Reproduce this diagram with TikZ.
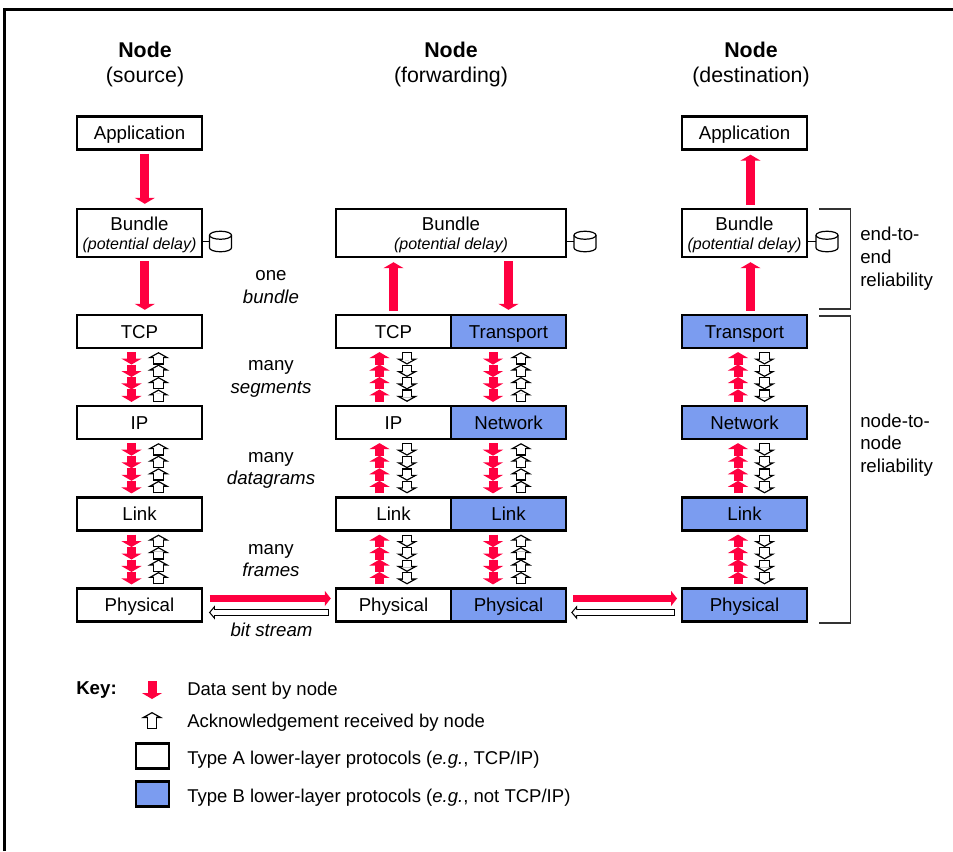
\documentclass[tikz,border=0pt]{standalone}
\usepackage{fontspec}
\setmainfont{Liberation Sans}
\usetikzlibrary{arrows.meta,calc}
\definecolor{datared}{HTML}{FF0040}
\definecolor{typeb}{HTML}{7B9CF0}
\newcommand{\bundletext}{\rule{0pt}{13pt}Bundle\\[-1.75pt]{\fontsize{12}{14}\selectfont\itshape (potential delay)}}
\tikzset{
  layer box/.style={draw,line width=1.8pt,fill=white,minimum width=93.4pt,minimum height=24.75pt,inner sep=0pt,text height=11.8pt,text depth=2pt,font=\fontsize{14}{16}\selectfont},
  half box/.style={layer box,minimum width=86.25pt},
  blue box/.style={half box,fill=typeb},
  bundle box/.style={layer box,minimum height=36pt,align=center,text height=,text depth=},
  store/.style={draw,line width=0.9pt,fill=white},
  big data/.style={datared,line width=6.75pt,-{Triangle[width=15pt,length=4.5pt]},shorten <=2.25pt,shorten >=3pt},
  small data/.style={datared,line width=6.75pt,-{Triangle[width=15pt,length=4.5pt]}},
  small ack/.style={white,line width=6.2pt,-{Triangle[width=8.4pt,length=2.35pt]},shorten <=1pt,shorten >=1.15pt,
    preaction={draw=black,line width=8.2pt,-{Triangle[width=16pt,length=4.5pt]},shorten <=0pt,shorten >=0pt}},
  wire data/.style={datared,line width=5.8pt,-{Triangle[width=11.25pt,length=4.5pt]}},
  wire ack/.style={white,line width=3.2pt,-{Triangle[width=5.6pt,length=2.42pt]},shorten <=\ackstart+0.9pt,shorten >=\ackend+1.18pt,
    preaction={draw=black,line width=5pt,-{Triangle[width=10.5pt,length=4.5pt]},shorten <=\ackstart,shorten >=\ackend}},
  caption/.style={align=center,font=\fontsize{14}{17}\selectfont,inner sep=0pt},
  heading/.style={align=center,font=\fontsize{16}{18.75}\selectfont,inner sep=0pt},
  side note/.style={align=left,font=\fontsize{14}{17}\selectfont,inner sep=0pt,anchor=west},
  key text/.style={font=\fontsize{13.9}{16}\selectfont,inner sep=0pt,anchor=west},
  bracket/.style={draw=black!80,line width=1pt}
}
\begin{document}
\begin{tikzpicture}[x=0.75pt,y=-0.75pt]
  \useasboundingbox (0,0) rectangle (953,851);
  \draw[line width=1.9pt] (4.5,851) -- (4.5,9.5) -- (953,9.5);

  % column headings
  \node[heading] (head1) at (145,64) {\textbf{Node}\\(source)};
  \node[heading] (head2) at (451,64) {\textbf{Node}\\(forwarding)};
  \node[heading] (head3) at (751,64) {\textbf{Node}\\(destination)};

  % source
  \node[layer box] (app1) at (139.5,133) {Application};
  \node[bundle box] (bundle1) at (139.5,233) {\bundletext};
  \node[layer box] (tcp1) at (139.5,331.5) {TCP};
  \node[layer box] (ip1) at (139.5,422.5) {IP};
  \node[layer box] (link1) at (139.5,514) {Link};
  \node[layer box] (phy1) at (139.5,605) {Physical};

  % forwarding
  \node[bundle box,minimum width=172.5pt] (bundle2) at (451,233) {\bundletext};
  \node[half box] (tcp2) at (393.5,331.5) {TCP};
  \node[half box] (ip2) at (393.5,422.5) {IP};
  \node[half box] (link2) at (393.5,514) {Link};
  \node[half box] (phy2) at (393.5,605) {Physical};
  \node[blue box] (trans2) at (508.5,331.5) {Transport};
  \node[blue box] (net2) at (508.5,422.5) {Network};
  \node[blue box] (blink2) at (508.5,514) {Link};
  \node[blue box] (bphy2) at (508.5,605) {Physical};

  % destination
  \node[layer box] (app3) at (744.5,133) {Application};
  \node[bundle box] (bundle3) at (744.5,233) {\bundletext};
  \node[layer box,fill=typeb] (trans3) at (744.5,331.5) {Transport};
  \node[layer box,fill=typeb] (net3) at (744.5,422.5) {Network};
  \node[layer box,fill=typeb] (link3) at (744.5,514) {Link};
  \node[layer box,fill=typeb] (phy3) at (744.5,605) {Physical};

  % storage
  \coordinate (disk1) at (220.5,241.5);
  \coordinate (disk2) at (585,241.5);
  \coordinate (disk3) at (827,241.5);
  \foreach \b/\d in {bundle1/disk1,bundle2/disk2,bundle3/disk3} {
    \draw[line width=1.4pt] (\b.east |- \d) -- ([xshift=-8.25pt]\d);
    \draw[store] ([shift={(-8.25pt,4.7pt)}]\d) -- ++(0,-9.4pt)
      arc[start angle=180,end angle=360,x radius=8.25pt,y radius=3pt] -- ++(0,9.4pt)
      arc[start angle=0,end angle=180,x radius=8.25pt,y radius=3pt] -- cycle;
    \draw[store,fill=none] ([shift={(-8.25pt,4.7pt)}]\d) arc[start angle=180,end angle=360,x radius=8.25pt,y radius=3pt];
  }

  % bundle arrows
  \draw[big data] ([xshift=4pt]app1.south) -- ([xshift=4pt]bundle1.north);
  \draw[big data] ([xshift=4pt]bundle1.south) -- ([xshift=4pt]tcp1.north);
  \draw[big data] (tcp2.north) -- (tcp2.north |- bundle2.south);
  \draw[big data] (bundle2.south -| trans2.north) -- (trans2.north);
  \draw[big data] ([xshift=4.5pt]trans3.north) -- ([xshift=4.5pt]bundle3.south);
  \draw[big data] ([xshift=4.5pt]bundle3.north) -- ([xshift=4.5pt]app3.south);

  % data going down the stack
  \foreach \hi/\lo/\xd/\xa in {tcp1/ip1/-8/19,ip1/link1/-8/19,link1/phy1/-8/19,
      trans2/net2/-15.5/12.5,net2/blink2/-15.5/12.5,blink2/bphy2/-15.5/12.5}
    \foreach \k in {0,...,3} {
      \pgfmathsetmacro\fa{0.052+0.224*\k}
      \pgfmathsetmacro\fb{\fa+0.224}
      \draw[small data] ($(\hi.south)!\fa!(\lo.north)+(\xd,0)$) -- ($(\hi.south)!\fb!(\lo.north)+(\xd,0)$);
      \draw[small ack] ($(\hi.south)!\fb!(\lo.north)+(\xa,0)$) -- ($(\hi.south)!\fa!(\lo.north)+(\xa,0)$);
    }

  % data going up the stack
  \foreach \hi/\lo/\xd/\xa in {tcp2/ip2/-14/13.5,ip2/link2/-14/13.5,link2/phy2/-14/13.5,
      trans3/net3/-6.5/20,net3/link3/-6.5/20,link3/phy3/-6.5/20}
    \foreach \k in {0,...,3} {
      \pgfmathsetmacro\fa{0.052+0.224*\k}
      \pgfmathsetmacro\fb{\fa+0.224}
      \draw[small data] ($(\hi.south)!\fb!(\lo.north)+(\xd,0)$) -- ($(\hi.south)!\fa!(\lo.north)+(\xd,0)$);
      \draw[small ack] ($(\hi.south)!\fa!(\lo.north)+(\xa,0)$) -- ($(\hi.south)!\fb!(\lo.north)+(\xa,0)$);
    }

  % between nodes
  \def\ackstart{4.5pt}
  \def\ackend{4.5pt}
  \draw[wire data,shorten <=5pt,shorten >=3pt] ([yshift=4.9pt]phy1.east) -- ([yshift=4.9pt]phy2.west);
  \draw[wire ack] ([yshift=-5.6pt]phy2.west) -- ([yshift=-5.6pt]phy1.east);
  \draw[wire data,shorten <=4.5pt,shorten >=3pt] ([yshift=4.9pt]bphy2.east) -- ([yshift=4.9pt]phy3.west);
  \def\ackend{3pt}
  \draw[wire ack] ([yshift=-5.6pt]phy3.west) -- ([yshift=-5.6pt]bphy2.east);

  % labels in the middle
  \node[caption] (unit1) at (271,287) {one\\\textit{bundle}};
  \node[caption] (unit2) at (271,379) {many\\\textit{segments}};
  \node[caption] (unit3) at (271,470.5) {many\\\textit{datagrams}};
  \node[caption] (unit4) at (271,560.5) {many\\\textit{frames}};
  \node[caption] (unit5) at (271.5,630) {\textit{bit stream}};

  % reliability
  \draw[bracket] (819,209) -- (850.5,209) -- (850.5,309) -- (819,309);
  \draw[bracket] (819,316) -- (850.5,316) -- (850.5,623) -- (819,623);
  \node[side note] (rel1) at (860,258.5) {end-to-\\end\\reliability};
  \node[side note] (rel2) at (860,445) {node-to-\\node\\reliability};

  % key
  \node[key text,font=\fontsize{14}{16}\selectfont\bfseries] (key) at (76,690) {Key:};
  \coordinate (keya) at (152,681);
  \coordinate (keyb) at (152,699);
  \coordinate (keyc) at (152,729);
  \coordinate (keyd) at (152,712);
  \draw[small data] (keya) -- (keyb);
  \draw[small ack] (keyc) -- (keyd);
  \node[draw,line width=1.8pt,fill=white,minimum width=24.5pt,minimum height=18.5pt,inner sep=0pt] (keye) at (152.5,756) {};
  \node[draw,line width=1.8pt,fill=typeb,minimum width=24.5pt,minimum height=18.5pt,inner sep=0pt] (keyf) at (152.5,794) {};
  \node[key text] (texta) at (187,691) {Data sent by node};
  \node[key text] (textb) at (187,723) {Acknowledgement received by node};
  \node[key text] (textc) at (187,760) {Type A lower-layer protocols (\textit{e.g.}, TCP/IP)};
  \node[key text] (textd) at (187,798) {Type B lower-layer protocols (\textit{e.g.}, not TCP/IP)};
\end{tikzpicture}
\end{document}
